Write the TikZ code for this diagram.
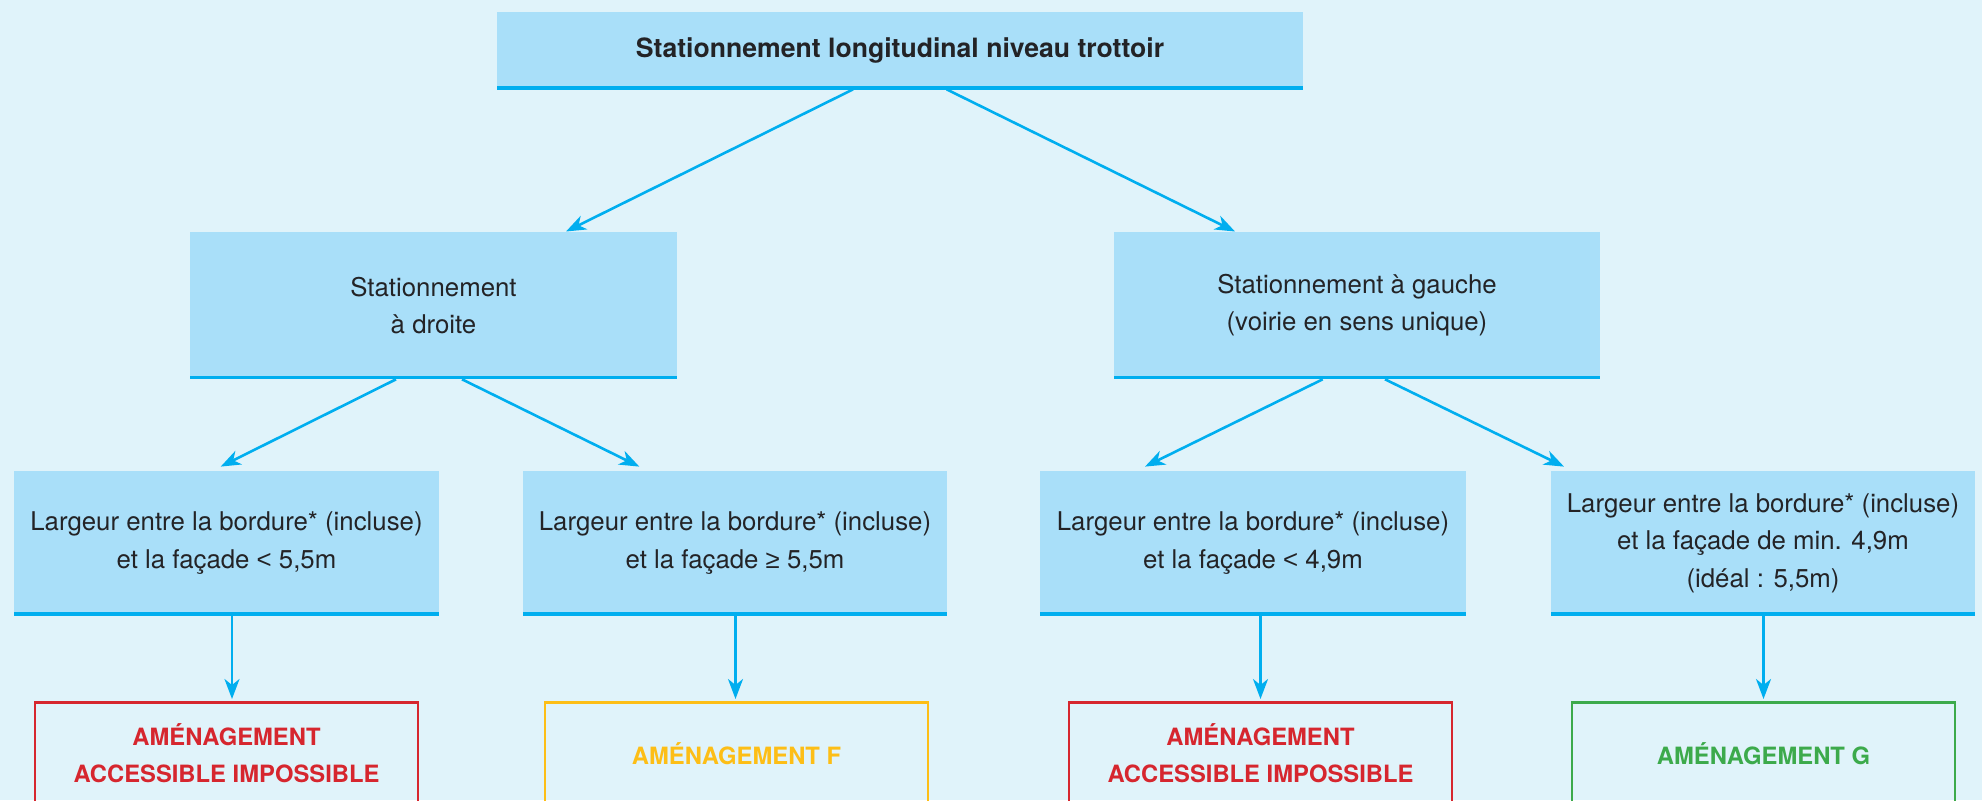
\documentclass[tikz,border=0pt]{standalone}
\usepackage{fontspec}
\setmainfont{TeX Gyre Heros}
\newfontfamily\symf{Liberation Sans}
\usetikzlibrary{arrows.meta,calc}
\definecolor{bg}{RGB}{224,243,250}
\definecolor{boxblue}{RGB}{169,223,249}
\definecolor{cyanline}{RGB}{0,174,239}
\definecolor{txt}{RGB}{35,35,38}
\definecolor{ored}{RGB}{214,38,46}
\definecolor{oyellow}{RGB}{253,190,22}
\definecolor{ogreen}{RGB}{60,170,75}
\tikzset{
  bluebox/.style={fill=boxblue, inner sep=0pt, align=center, text=txt,
    font=\fontsize{12.9}{18.75}\selectfont,
    path picture={\draw[cyanline,line width=2.8pt] (path picture bounding box.south west) -- (path picture bounding box.south east);}},
  outbox/.style={draw=#1, line width=1.3pt, text=#1, anchor=north,
    minimum width=191.5pt, minimum height=51pt, inner sep=0pt, align=center,
    font=\bfseries\fontsize{11.9}{18.5}\selectfont},
  arr/.style={draw=cyanline, line width=1.3pt, -{Stealth[length=10pt,width=7.5pt,inset=3pt]}},
}
\begin{document}
\begin{tikzpicture}[x=0.5pt,y=-0.5pt]
\fill[bg] (0,0) rectangle (1982,800);
\useasboundingbox (0,0) rectangle (1982,800);
\clip (0,0) rectangle (1982,800);

\node[bluebox, minimum width=403pt, minimum height=38.5pt, font=\bfseries\fontsize{13.3}{16}\selectfont] (T) at (900,50.5) {Stationnement longitudinal niveau trottoir};

\node[bluebox, minimum width=243.5pt, minimum height=73.5pt] (ML) at (433.5,305.4) {Stationnement\\à droite};
\node[bluebox, minimum width=243pt, minimum height=73.5pt] (MR) at (1357,305.4) {Stationnement à gauche\\(voirie en sens unique)};

\node[bluebox, minimum width=212.5pt, minimum height=72pt] (L1) at (226.5,543) {Largeur entre la bordure* (incluse)\\et la façade {\symf <} 5,5m};
\node[bluebox, minimum width=212pt, minimum height=72pt] (L2) at (735,543) {Largeur entre la bordure* (incluse)\\et la façade {\symf ≥} 5,5m};
\node[bluebox, minimum width=213pt, minimum height=72pt] (R1) at (1253,543) {Largeur entre la bordure* (incluse)\\et la façade {\symf <} 4,9m};
\node[bluebox, minimum width=212pt, minimum height=72pt] (R2) at (1763,543) {Largeur entre la bordure* (incluse)\\et la façade de min. 4,9m\\(idéal : 5,5m)};

\node[outbox=ored] (O1) at (226.5,701) {AMÉNAGEMENT\\ACCESSIBLE IMPOSSIBLE};
\node[outbox=oyellow] (O2) at (736.5,701) {AMÉNAGEMENT F};
\node[outbox=ored] (O3) at (1260.5,701) {AMÉNAGEMENT\\ACCESSIBLE IMPOSSIBLE};
\node[outbox=ogreen] (O4) at (1763.5,701) {AMÉNAGEMENT G};

\draw[arr] ($(T.south)+(-47,0)$) -- ($(ML.north)+(132.5,0)$);
\draw[arr] ($(T.south)+(46.7,0)$) -- ($(MR.north)+(-122,0)$);

\draw[arr] ($(ML.south)+(-37.5,0)$) -- ($(L1.north)+(-5.8,-4)$);
\draw[arr] ($(ML.south)+(28.5,0)$) -- ($(L2.north)+(-95.7,-4)$);
\draw[arr] ($(MR.south)+(-34.3,0)$) -- ($(R1.north)+(-108,-4)$);
\draw[arr] ($(MR.south)+(28,0)$) -- ($(R2.north)+(-199,-4)$);

\draw[arr] ($(O1.north |- L1.south)+(5.5,0)$) -- ($(O1.north)+(5.5,-2)$);
\draw[arr] ($(O2.north |- L2.south)+(-1,0)$) -- ($(O2.north)+(-1,-2)$);
\draw[arr] (O3.north |- R1.south) -- ($(O3.north)+(0,-2)$);
\draw[arr] (O4.north |- R2.south) -- ($(O4.north)+(0,-2)$);
\end{tikzpicture}
\end{document}
